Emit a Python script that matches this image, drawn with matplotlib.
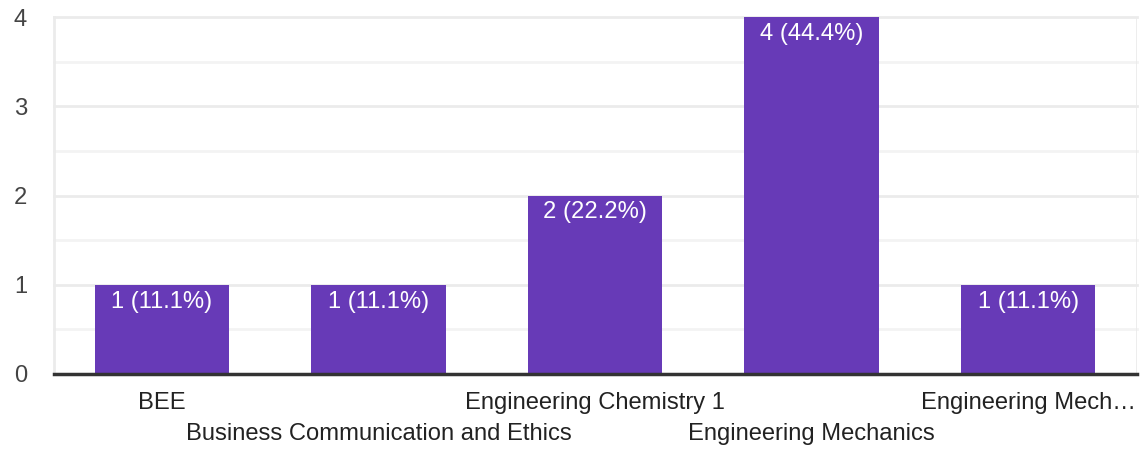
import matplotlib
matplotlib.use("Agg")
import matplotlib.pyplot as plt
import numpy as np

# chart data
categories = ["BEE", "Business Communication and Ethics", "Engineering Chemistry 1",
              "Engineering Mechanics", "Engineering Mech\u2026"]
counts = [1, 1, 2, 4, 1]
bar_labels = ["1 (11.1%)", "1 (11.1%)", "2 (22.2%)", "4 (44.4%)", "1 (11.1%)"]
y_ticks = [0, 1, 2, 3, 4]

plt.rcParams['font.family'] = ['Liberation Sans', 'DejaVu Sans']
fs = 17.1

fig = plt.figure(figsize=(11.4, 4.5), dpi=100)
ax = fig.add_axes([53.5 / 1140, 1 - 374 / 450, 1083 / 1140, 357 / 450])

x = np.arange(len(categories))
ax.bar(x, counts, width=0.62, color="#673ab7", zorder=3)

ax.set_xlim(-0.5, len(categories) - 0.5)
ax.set_ylim(0, 4)

# grid: major and half-step lines
for v in np.arange(0.5, 4.01, 0.5):
    col = "#ebebeb" if v % 1 == 0 else "#f3f3f3"
    ax.axhline(v, color=col, lw=2, zorder=1, clip_on=False)
ax.axhline(0, color="#333333", lw=2.5, zorder=4, clip_on=False)

for s in ["top", "bottom", "right"]:
    ax.spines[s].set_visible(False)
ax.spines["left"].set_color("#ebebeb")
ax.spines["left"].set_linewidth(2)
ax.axvline(len(categories) - 0.5, color="#ebebeb", lw=2, zorder=1)

ax.set_yticks(y_ticks)
ax.set_yticklabels([str(t) for t in y_ticks], fontsize=fs, color="#444444")
ax.tick_params(axis="y", length=0, pad=28.5)
for lab in ax.get_yticklabels():
    lab.set_horizontalalignment("left")

ax.set_xticks([])
for i, name in enumerate(categories):
    ypos = -0.33 if i % 2 == 0 else -0.67
    ax.text(i, ypos, name, ha="center", va="center", fontsize=fs, color="#222222",
            clip_on=False)

for i, (c, lab) in enumerate(zip(counts, bar_labels)):
    ax.text(i, c - 0.19, lab, ha="center", va="center", fontsize=fs, color="white", zorder=5)

fig.savefig("out.png", dpi=100)
